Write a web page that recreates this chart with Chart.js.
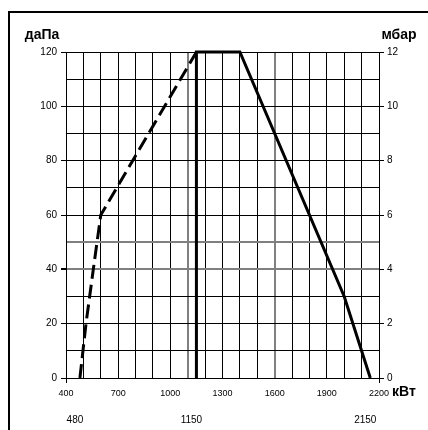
<!DOCTYPE html>
<html>
<head>
<meta charset="utf-8">
<script src="https://cdn.jsdelivr.net/npm/chart.js@4.4.0/dist/chart.umd.min.js"></script>
<style>
  html, body { margin: 0; padding: 0; background: #fff; }
  canvas { display: block; }
</style>
</head>
<body>
<canvas id="c" width="428" height="430"></canvas>
<script>
// ---- data ----
const xTickLabels = [400, 700, 1000, 1300, 1600, 1900, 2200];
const extraXLabels = [480, 1150, 2150];
const leftTickLabels = [0, 20, 40, 60, 80, 100, 120];
const rightTickLabels = [0, 2, 4, 6, 8, 10, 12];
const dashedKW = [480, 515, 557, 600, 1150];
const dashedPa = [0, 20, 40, 60, 120];
const solidKW = [1150, 1150, 1400, 2000, 2150];
const solidPa = [0, 120, 120, 30, 0];
const grayX = [1100, 1600];
const grayY = [40, 50];

const FONT = "'Liberation Sans', Arial, sans-serif";

const toPts = (xs, ys) => xs.map((x, i) => ({ x: x, y: ys[i] }));

const framePlugin = {
  id: 'frame',
  afterDraw(chart) {
    const ctx = chart.ctx;
    const a = chart.chartArea;
    const xs = chart.scales.x;
    ctx.save();
    ctx.strokeStyle = '#000';
    ctx.lineWidth = 2;
    ctx.beginPath();
    ctx.moveTo(9, chart.height);
    ctx.lineTo(9, 12);
    ctx.lineTo(chart.width, 12);
    ctx.stroke();
    ctx.fillStyle = '#000';
    ctx.font = 'bold 14px ' + FONT;
    ctx.textBaseline = 'middle';
    ctx.textAlign = 'center';
    ctx.fillText('даПа', a.left - 24, a.top - 17);
    ctx.fillText('мбар', a.right + 20, a.top - 17);
    ctx.textAlign = 'left';
    ctx.fillText('кВт', a.right + 13, xs.top + 14);
    ctx.restore();
  }
};

new Chart(document.getElementById('c'), {
  type: 'scatter',
  data: {
    datasets: [
      {
        data: toPts(dashedKW, dashedPa),
        showLine: true,
        clip: false,
        borderColor: '#000',
        borderWidth: 3,
        borderDash: [14, 6],
        pointRadius: 0,
        tension: 0,
        xAxisID: 'x',
        yAxisID: 'y'
      },
      {
        data: toPts(solidKW, solidPa),
        showLine: true,
        clip: false,
        borderColor: '#000',
        borderWidth: 3,
        pointRadius: 0,
        tension: 0,
        xAxisID: 'x',
        yAxisID: 'y'
      }
    ]
  },
  options: {
    responsive: false,
    animation: false,
    devicePixelRatio: 1,
    layout: { padding: { top: 52, left: 0, right: 0, bottom: 0 } },
    plugins: { legend: { display: false }, tooltip: { enabled: false } },
    scales: {
      x: {
        type: 'linear',
        position: 'bottom',
        weight: 0,
        min: 400, max: 2200,
        afterFit: s => { s.height = 27; },
        ticks: {
          stepSize: 100,
          autoSkip: false,
          maxRotation: 0,
          padding: 5,
          color: '#000',
          font: { family: FONT, size: 9 },
          callback: v => xTickLabels.includes(v) ? String(v) : ''
        },
        grid: {
          color: c => grayX.includes(c.tick && c.tick.value) ? '#808080' : '#000',
          lineWidth: c => grayX.includes(c.tick && c.tick.value) ? 2 : 1,
          tickLength: 5,
          tickColor: c => (c.tick && (c.tick.value === 400 || c.tick.value === 2200)) ? '#000' : 'rgba(0,0,0,0)'
        },
        border: { display: true, color: '#000', width: 1 }
      },
      x2: {
        type: 'linear',
        position: 'bottom',
        weight: 1,
        min: 400, max: 2200,
        afterFit: s => { s.height = 25; },
        afterBuildTicks: s => { s.ticks = extraXLabels.map(v => ({ value: v })); },
        ticks: {
          autoSkip: false,
          maxRotation: 0,
          padding: 9,
          labelOffset: -5,
          color: '#000',
          font: { family: FONT, size: 10 },
          callback: v => String(v)
        },
        grid: { display: false, drawTicks: false },
        border: { display: false }
      },
      y: {
        type: 'linear',
        position: 'left',
        min: 0, max: 120,
        afterFit: s => { s.width = 66; },
        ticks: {
          stepSize: 10,
          autoSkip: false,
          padding: 4,
          color: '#000',
          font: { family: FONT, size: 10 },
          callback: v => leftTickLabels.includes(v) ? String(v) : ''
        },
        grid: {
          color: c => grayY.includes(c.tick && c.tick.value) ? '#808080' : '#000',
          lineWidth: c => grayY.includes(c.tick && c.tick.value) ? 2 : 1,
          tickLength: 5,
          tickColor: c => (c.tick && leftTickLabels.includes(c.tick.value)) ? '#000' : 'rgba(0,0,0,0)'
        },
        border: { display: true, color: '#000', width: 1 }
      },
      y2: {
        type: 'linear',
        position: 'right',
        min: 0, max: 12,
        afterFit: s => { s.width = 49; },
        ticks: {
          stepSize: 2,
          autoSkip: false,
          padding: 3,
          color: '#000',
          font: { family: FONT, size: 10 },
          callback: v => rightTickLabels.includes(v) ? String(v) : ''
        },
        grid: { drawOnChartArea: false, tickLength: 5, color: '#000' },
        border: { display: true, color: '#000', width: 1 }
      }
    }
  },
  plugins: [framePlugin]
});
</script>
</body>
</html>
